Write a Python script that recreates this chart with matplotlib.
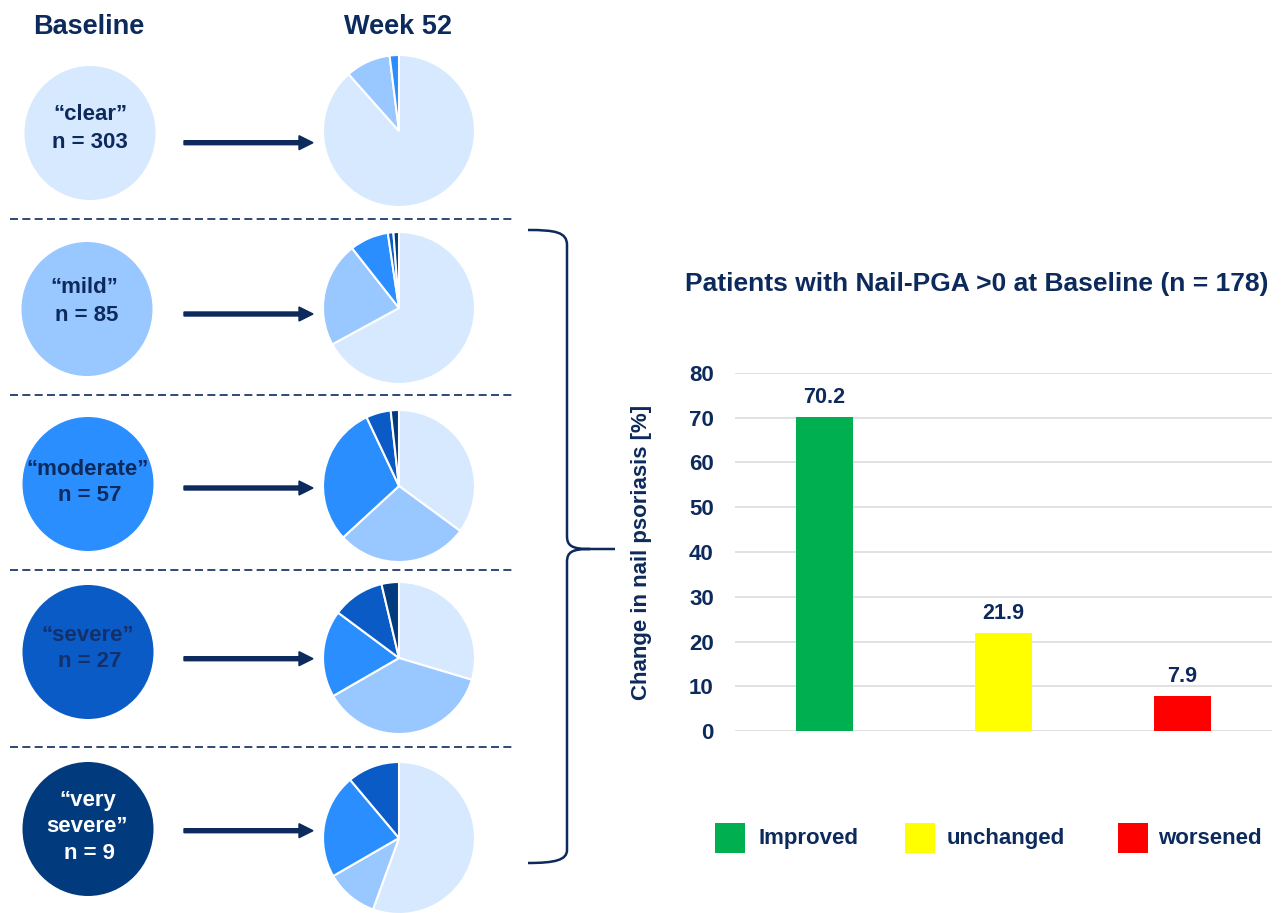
import matplotlib
matplotlib.use('Agg')
import matplotlib.pyplot as plt
from matplotlib.patches import Ellipse, FancyArrow, Rectangle, PathPatch
from matplotlib.path import Path

plt.rcParams['font.family'] = ['Liberation Sans', 'DejaVu Sans']

NAVY = '#0D2A5C'

# ---- data ----
levels = ['clear', 'mild', 'moderate', 'severe', 'very severe']
baseline_n = [303, 85, 57, 27, 9]
level_colors = ['#D6E9FF', '#99C7FF', '#2B8EFF', '#0A5BC6', '#023A7E']
# week-52 distribution (counts per level) for each baseline group
week52_clear = [268, 29, 6, 0, 0]
week52_mild = [57, 19, 7, 1, 1]
week52_moderate = [20, 16, 17, 3, 1]
week52_severe = [8, 10, 5, 3, 1]
week52_very_severe = [5, 1, 2, 1, 0]
week52 = [week52_clear, week52_mild, week52_moderate, week52_severe, week52_very_severe]

bar_cats = ['Improved', 'unchanged', 'worsened']
bar_vals = [70.2, 21.9, 7.9]
bar_colors = ['#00B050', '#FFFF00', '#FF0000']
yticks = list(range(0, 81, 10))

W, H = 1282, 913
fig = plt.figure(figsize=(W / 100, H / 100), dpi=100)
ov = fig.add_axes([0, 0, 1, 1])


def Y(y):
    return H - y


# layout (pixels from top-left)
circle_c = [(90, 133), (87, 309), (88, 484), (88, 652), (88, 829)]
pie_c = [(399, 131), (399, 308), (399, 486), (399, 658), (399, 838)]
arrow_y = [142.7, 314, 488, 658.7, 830.7]
dash_y = [219, 395, 570, 746.5]

label_lines = [['\u201cclear\u201d', 'n = 303'],
               ['\u201cmild\u201d', 'n = 85'],
               ['\u201cmoderate\u201d', 'n = 57'],
               ['\u201csevere\u201d', 'n = 27'],
               ['\u201cvery', 'severe\u201d', 'n = 9']]
label_y = [[114, 142.7], [287, 315], [469, 495], [635, 661.7], [800.7, 826.7, 853]]
label_x = [[90, 90], [84, 87], [88, 90], [88, 90], [88, 87, 90]]
text_colors = [NAVY, NAVY, NAVY, '#14306A', 'white']

for i in range(5):
    cx, cy = circle_c[i]
    ov.add_patch(Ellipse((cx, Y(cy)), 131, 134, facecolor=level_colors[i],
                         edgecolor='none', zorder=2))
    for s, ty, tx in zip(label_lines[i], label_y[i], label_x[i]):
        ov.text(tx, Y(ty), s, ha='center', va='center', fontsize=16,
                fontweight='bold', color=text_colors[i], zorder=3)
    ov.add_patch(FancyArrow(184, Y(arrow_y[i]), 129, 0, width=4, head_width=14,
                            head_length=14, length_includes_head=True,
                            color=NAVY, zorder=3))
    vals = [v for v in week52[i] if v > 0]
    cols = [c for v, c in zip(week52[i], level_colors) if v > 0]
    px, py = pie_c[i]
    ov.pie(vals, colors=cols, startangle=90, counterclock=False,
           center=(px, Y(py)), radius=76, frame=True,
           wedgeprops=dict(edgecolor='white', linewidth=1.5))

for dy in dash_y:
    ov.plot([10, 515], [Y(dy), Y(dy)], ls=(0, (4.8, 2.6)), color=NAVY, lw=1.2)

ov.text(89, Y(27), 'Baseline', ha='center', va='center', fontsize=19.5,
        fontweight='bold', color=NAVY)
ov.text(398, Y(27), 'Week 52', ha='center', va='center', fontsize=19.5,
        fontweight='bold', color=NAVY)

# brace
verts = [(528, 230), (555, 230), (567, 232), (567, 245),
         (567, 536), (567, 546), (572, 549), (590, 549), (615, 549),
         (590, 549), (572, 549), (567, 552), (567, 562),
         (567, 850), (567, 860), (555, 863), (528, 863)]
codes = [Path.MOVETO, Path.CURVE4, Path.CURVE4, Path.CURVE4,
         Path.LINETO, Path.CURVE4, Path.CURVE4, Path.CURVE4, Path.LINETO,
         Path.MOVETO, Path.CURVE4, Path.CURVE4, Path.CURVE4,
         Path.LINETO, Path.CURVE4, Path.CURVE4, Path.CURVE4]
verts = [(x, Y(y)) for x, y in verts]
ov.add_patch(PathPatch(Path(verts, codes), facecolor='none', edgecolor=NAVY, lw=1.8))

# title and y label
ov.text(977, Y(284), 'Patients with Nail-PGA >0 at Baseline (n = 178)', ha='center',
        va='center', fontsize=19, fontweight='bold', color=NAVY)
ov.text(642, Y(552), 'Change in nail psoriasis [%]', ha='center', va='center',
        rotation=90, fontsize=16, fontweight='bold', color=NAVY)

# legend
leg_sq_x = [715, 905, 1118]
leg_tx_x = [758, 947, 1158]
for c, name, sx, tx in zip(bar_colors, bar_cats, leg_sq_x, leg_tx_x):
    ov.add_patch(Rectangle((sx, Y(853)), 30, 30, facecolor=c, edgecolor='none'))
    ov.text(tx, Y(838), name, ha='left', va='center', fontsize=16,
            fontweight='bold', color=NAVY)

ov.set_xlim(0, W)
ov.set_ylim(0, H)
ov.set_aspect('auto')
ov.axis('off')

# bar chart
ax = fig.add_axes([734.7 / W, 1 - 731 / H, (1272 - 734.7) / W, 358 / H])
ax.bar(range(len(bar_vals)), bar_vals, width=0.32, color=bar_colors, zorder=3)
ax.set_xlim(-0.5, 2.5)
ax.set_ylim(0, 80)
ax.set_yticks(yticks)
ax.set_xticks([])
ax.yaxis.grid(True, color='#DEDEDE', lw=1.3, zorder=0)
ax.set_axisbelow(True)
for sp in ax.spines.values():
    sp.set_visible(False)
ax.tick_params(axis='y', length=0, pad=15, labelsize=16, labelcolor=NAVY)
for t in ax.get_yticklabels():
    t.set_fontweight('bold')
for i, v in enumerate(bar_vals):
    ax.annotate(f'{v}', (i, v), xytext=(0, 14), textcoords='offset points',
                ha='center', va='center', fontsize=15.5, fontweight='bold', color=NAVY)
ax.patch.set_alpha(0)

fig.savefig('out.png', dpi=100)
